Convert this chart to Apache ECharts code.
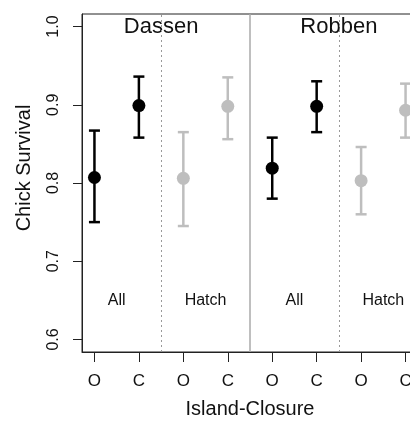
<!DOCTYPE html>
<html>
<head>
<meta charset="utf-8">
<style>
  html, body { margin: 0; padding: 0; background: #fff; }
  #chart { width: 410px; height: 421px; }
</style>
<script src="https://cdn.jsdelivr.net/npm/echarts@6/dist/echarts.min.js"></script>
</head>
<body>
<div id="chart"></div>
<script>
// data
const positions = [1, 2, 3, 4, 5, 6, 7, 8];
const closure = ['O', 'C', 'O', 'C', 'O', 'C', 'O', 'C'];
const subset = ['All', 'All', 'Hatch', 'Hatch', 'All', 'All', 'Hatch', 'Hatch'];
const means = [0.807, 0.899, 0.806, 0.898, 0.819, 0.898, 0.803, 0.893];
const lower = [0.750, 0.858, 0.745, 0.856, 0.780, 0.865, 0.760, 0.858];
const upper = [0.867, 0.936, 0.865, 0.935, 0.858, 0.930, 0.846, 0.927];
const yTicks = [0.6, 0.7, 0.8, 0.9, 1.0];
const islands = ['Dassen', 'Robben'];
const islandPos = [2.5, 6.5];
const subsetLabels = ['All', 'Hatch', 'All', 'Hatch'];
const subsetPos = [1.5, 3.5, 5.5, 7.5];

const FONT = 'Liberation Sans, Arial, Helvetica, sans-serif';
const colorOf = s => s === 'All' ? '#000000' : '#bebebe';

const chart = echarts.init(document.getElementById('chart'), null, {renderer: 'canvas'});

// error bars drawn via custom series
const errData = positions.map((p, i) => [p, lower[i], upper[i], i]);

const option = {
    animation: false,
    backgroundColor: '#fff',
    grid: {
        left: 82,
        top: 14,
        width: 336,
        height: 338,
        outerBoundsMode: 'none',
        containLabel: false,
        show: true,
        borderColor: '#222',
        borderWidth: 1,
        backgroundColor: 'transparent'
    },
    graphic: [{
        type: 'text',
        x: 24,
        y: 168,
        rotation: Math.PI / 2,
        style: {
            text: 'Chick Survival',
            font: '20px ' + FONT,
            fill: '#111',
            align: 'center',
            verticalAlign: 'middle'
        }
    }],
    xAxis: {
        type: 'value',
        min: 0.72,
        max: 8.28,
        name: 'Island-Closure',
        nameLocation: 'middle',
        nameGap: 47,
        nameTextStyle: {fontFamily: FONT, fontSize: 20, color: '#111'},
        splitLine: {show: false},
        axisLine: {show: true, onZero: false, lineStyle: {color: '#222', width: 1}},
        axisTick: {show: true, length: 10, customValues: positions, lineStyle: {color: '#222', width: 1}},
        axisLabel: {
            customValues: positions,
            margin: 21,
            fontFamily: FONT,
            fontSize: 17,
            color: '#111',
            formatter: v => closure[positions.indexOf(v)] || ''
        }
    },
    yAxis: {
        type: 'value',
        min: 0.584,
        max: 1.016,
        splitLine: {show: false},
        axisLine: {show: true, lineStyle: {color: '#222', width: 1}},
        axisTick: {show: true, length: 9, customValues: yTicks, lineStyle: {color: '#222', width: 1}},
        axisLabel: {
            customValues: yTicks,
            rotate: 90,
            margin: 20,
            fontFamily: FONT,
            fontSize: 16,
            color: '#111',
            formatter: v => v.toFixed(1)
        }
    },
    series: [
        {
            // separators
            type: 'line',
            data: [],
            silent: true,
            markLine: {
                symbol: 'none',
                silent: true,
                label: {show: false},
                data: [
                    {xAxis: 2.5, lineStyle: {type: [2, 3], color: '#999', width: 1}},
                    {xAxis: 4.5, lineStyle: {type: 'solid', color: '#aaa', width: 1.5}},
                    {xAxis: 6.5, lineStyle: {type: [2, 3], color: '#999', width: 1}}
                ]
            }
        },
        {
            type: 'custom',
            data: errData,
            silent: true,
            renderItem: (params, api) => {
                const x = api.value(0);
                const lo = api.coord([x, api.value(1)]);
                const hi = api.coord([x, api.value(2)]);
                const idx = api.value(3);
                const c = colorOf(subset[idx]);
                const cap = 5.5;
                const style = {stroke: c, lineWidth: 2.5};
                return {
                    type: 'group',
                    children: [
                        {type: 'line', shape: {x1: lo[0], y1: lo[1], x2: hi[0], y2: hi[1]}, style},
                        {type: 'line', shape: {x1: lo[0] - cap, y1: lo[1], x2: lo[0] + cap, y2: lo[1]}, style},
                        {type: 'line', shape: {x1: hi[0] - cap, y1: hi[1], x2: hi[0] + cap, y2: hi[1]}, style}
                    ]
                };
            },
            z: 3
        },
        {
            type: 'scatter',
            symbol: 'circle',
            symbolSize: 13,
            silent: true,
            data: positions.map((p, i) => ({
                value: [p, means[i]],
                itemStyle: {color: colorOf(subset[i]), opacity: 1}
            })),
            z: 4
        },
        {
            // island titles
            type: 'scatter',
            symbolSize: 0,
            silent: true,
            itemStyle: {opacity: 1},
            data: islandPos.map((p, i) => ({value: [p, 1.0], name: islands[i]})),
            label: {
                show: true,
                position: 'inside',
                formatter: p => p.name,
                fontFamily: FONT,
                fontSize: 22,
                color: '#111'
            }
        },
        {
            // subset labels
            type: 'scatter',
            symbolSize: 0,
            silent: true,
            itemStyle: {opacity: 1},
            data: subsetPos.map((p, i) => ({value: [p, 0.65], name: subsetLabels[i]})),
            label: {
                show: true,
                position: 'inside',
                formatter: p => p.name,
                fontFamily: FONT,
                fontSize: 16,
                color: '#111'
            }
        }
    ]
};

chart.setOption(option);
</script>
</body>
</html>
